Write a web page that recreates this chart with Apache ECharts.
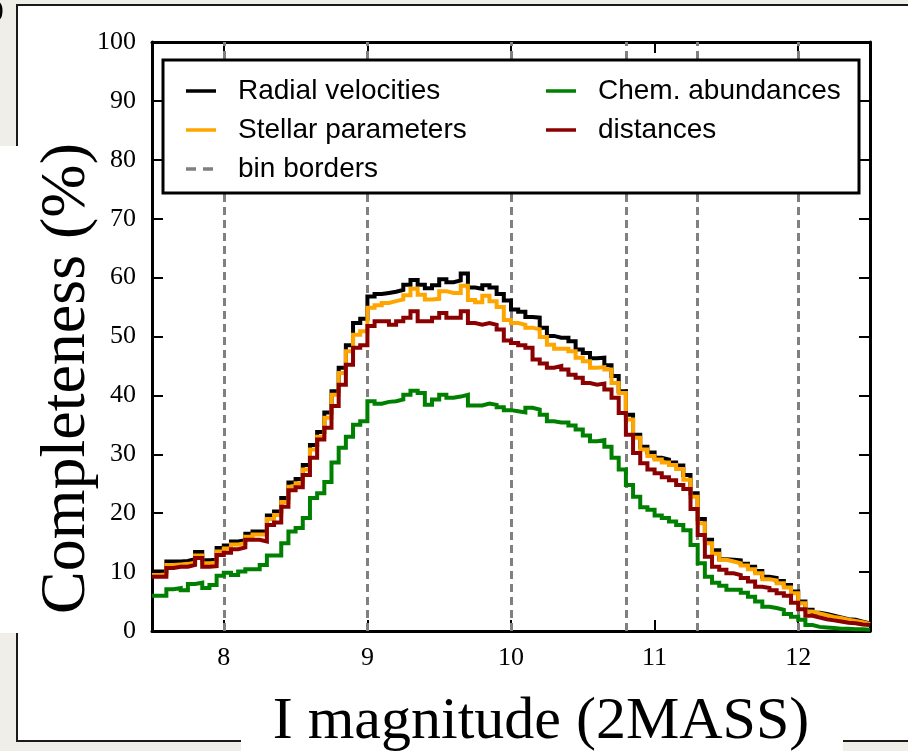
<!DOCTYPE html>
<html>
<head>
<meta charset="utf-8">
<script src="https://cdn.jsdelivr.net/npm/echarts@6/dist/echarts.min.js"></script>
<style>
html,body{margin:0;padding:0;background:#efeee8;}
#chart{width:908px;height:751px;}
</style>
</head>
<body>
<div id="chart"></div>
<script>
// Bin layout (I magnitude): 100 bins of width 0.05 from 7.5 to 12.5
const binStart = 7.5;
const binWidth = 0.05;

// Completeness (%) per bin
const radialVelocities = [
 10.1,10.1,11.8,11.8,11.9,12.2,13.4,12.0,12.1,14.1,
 14.5,15.2,15.4,16.5,16.9,16.9,19.6,20.3,22.6,25.2,
 25.8,28.2,31.6,33.8,37.1,40.7,44.7,48.5,52.3,53.0,
 56.8,57.2,57.4,57.6,57.9,58.8,59.6,58.8,58.2,58.7,
 59.7,59.2,59.5,60.7,58.3,58.1,58.7,58.3,57.2,56.1,
 54.6,54.2,53.3,53.2,51.5,50.1,49.8,49.8,49.2,47.8,
 47.2,46.3,46.4,45.1,43.3,40.7,36.7,33.3,31.3,30.3,
 29.4,29.1,28.6,28.1,26.5,23.4,19.0,15.5,13.7,12.2,
 12.1,12.0,11.4,10.9,10.2,9.2,9.0,8.5,7.8,6.7,
 5.0,3.6,3.1,2.9,2.6,2.3,2.0,1.9,1.6,1.3
];
const stellarParameters = [
 9.5,9.6,11.2,11.3,11.4,11.6,12.8,11.5,11.6,13.5,
 14.0,14.7,14.9,16.0,16.4,16.4,19.0,19.7,21.9,24.5,
 25.1,27.4,30.8,33.0,36.2,40.1,43.8,47.5,50.3,50.9,
 54.9,55.3,55.7,56.0,56.3,57.0,58.1,57.1,56.3,56.4,
 57.7,57.4,57.4,58.6,56.2,55.8,56.9,56.0,55.0,52.8,
 52.3,52.0,51.5,51.2,49.9,48.6,47.9,47.9,47.5,46.4,
 45.8,44.7,44.8,44.4,42.1,40.4,35.9,32.8,30.8,29.7,
 29.1,28.6,28.2,27.5,25.7,22.8,18.3,14.9,13.1,12.1,
 11.8,11.5,11.1,10.5,9.8,8.8,8.6,8.1,7.4,6.4,
 4.7,3.3,3.0,2.7,2.4,2.2,1.9,1.7,1.5,1.2
];
const chemAbundances = [
 6.0,6.0,7.1,7.3,6.9,8.0,8.2,7.3,7.8,9.4,
 9.9,9.5,10.1,10.5,10.5,11.2,12.8,12.8,14.9,16.9,
 17.5,19.2,22.6,23.4,25.3,28.6,31.1,33.0,35.0,35.6,
 39.0,38.6,38.9,39.0,39.3,40.1,40.8,40.4,38.4,39.3,
 40.1,39.6,39.8,40.1,38.3,38.3,38.6,38.4,38.0,37.5,
 37.3,37.1,37.9,37.6,36.7,35.6,35.4,35.4,34.9,34.2,
 33.2,32.2,32.4,31.3,29.4,27.4,24.8,22.8,21.0,20.6,
 19.6,19.2,18.6,18.0,17.1,14.6,11.5,9.2,8.2,7.7,
 7.0,7.0,6.5,5.8,5.0,4.1,3.9,3.6,2.9,2.4,
 1.9,1.0,0.7,0.6,0.5,0.4,0.4,0.3,0.3,0.2
];
const distances = [
 9.2,9.2,10.7,10.9,10.9,11.2,12.4,10.9,11.0,12.9,
 13.3,13.9,14.2,15.5,15.5,15.2,18.0,18.4,21.1,23.9,
 24.4,26.5,29.4,32.5,34.5,38.2,41.8,45.2,48.1,48.5,
 51.8,52.6,52.6,52.0,52.6,53.2,54.3,52.6,52.6,53.2,
 54.0,53.2,53.2,54.3,52.3,52.0,52.3,52.0,51.2,49.3,
 48.9,48.5,48.1,46.1,45.4,44.7,45.0,44.4,43.5,43.0,
 42.1,41.8,42.0,41.0,39.6,37.0,33.3,30.2,28.5,27.4,
 26.8,26.1,25.6,24.8,24.1,20.7,16.3,12.6,10.9,10.4,
 9.8,9.5,9.0,8.4,7.5,7.3,6.9,6.4,6.0,4.8,
 3.7,2.6,2.3,2.0,1.8,1.6,1.4,1.3,1.1,1.0
];
const binBorders = [8, 9, 10, 10.8, 11.3, 12];
const xTicks = [8, 9, 10, 11, 12];

function stepData(vals) {
  const out = vals.map((v, i) => [+(binStart + i * binWidth).toFixed(4), v]);
  out.push([+(binStart + vals.length * binWidth).toFixed(4), vals[vals.length - 1]]);
  return out;
}

const chart = echarts.init(document.getElementById('chart'), null, {renderer: 'canvas'});
const serif = 'Liberation Serif';
const sans = 'Liberation Sans';

function lineSeries(name, vals, color, z) {
  return {
    name: name, type: 'line', step: 'end', data: stepData(vals),
    symbol: 'none', showSymbol: false, z: z,
    lineStyle: {color: color, width: 4, join: 'miter'}, itemStyle: {color: color},
    xAxisIndex: 0, yAxisIndex: 0, animation: false
  };
}

const solidIcon = 'path://M0,0 H30 V3.5 H0 Z';
const dashIcon = 'path://M0,0 H10 V3.5 H0 Z M17,0 H27 V3.5 H17 Z M30,0 V3.5 Z';

const legendText = {fontFamily: sans, fontSize: 28, color: '#000', lineHeight: 30, padding: [0, 0, 0, 17]};

const option = {
  backgroundColor: '#efeee8',
  animation: false,
  graphic: [
    {type: 'rect', z: -10, shape: {x: 17, y: 5, width: 1000, height: 736},
     style: {fill: '#ffffff', stroke: '#1a1a1a', lineWidth: 2}},
    {type: 'rect', z: -9, shape: {x: 0, y: 146, width: 120, height: 487}, style: {fill: '#ffffff'}},
    {type: 'rect', z: -9, shape: {x: 241, y: 700, width: 602, height: 60}, style: {fill: '#ffffff'}},
    {type: 'text', z: -8, left: -5, top: -3, style: {text: ')', font: '26px "Liberation Serif"', fill: '#000'}},
    {type: 'rect', z: 6, shape: {x: 163, y: 60, width: 696, height: 133},
     style: {fill: '#ffffff', stroke: '#000', lineWidth: 3}}
  ],
  grid: {left: 152, right: 38, top: 42, bottom: 120, containLabel: false, outerBoundsMode: 'none'},
  legend: [
    {data: [
       {name: 'Radial velocities', icon: solidIcon},
       {name: 'Stellar parameters', icon: solidIcon},
       {name: 'bin borders', icon: dashIcon}],
     orient: 'vertical', left: 181, top: 71, z: 10, itemGap: 9, itemWidth: 30, itemHeight: 4,
     selectedMode: false, textStyle: legendText},
    {data: [
       {name: 'Chem. abundances', icon: solidIcon},
       {name: 'distances', icon: solidIcon}],
     orient: 'vertical', left: 541, top: 71, z: 10, itemGap: 9, itemWidth: 30, itemHeight: 4,
     selectedMode: false, textStyle: legendText}
  ],
  xAxis: [
    {type: 'value', position: 'bottom', min: 7.5, max: 12.5,
     name: 'I magnitude (2MASS)', nameLocation: 'middle', nameGap: 61, nameMoveOverlap: false,
     nameTextStyle: {fontFamily: serif, fontSize: 60, color: '#000', padding: [0, 0, 0, 60]},
     axisLine: {show: true, onZero: false, lineStyle: {color: '#000', width: 3}},
     axisTick: {show: true, inside: true, length: 11, customValues: xTicks, lineStyle: {color: '#000', width: 2}},
     axisLabel: {show: true, customValues: xTicks, margin: 14, fontFamily: serif, fontSize: 26, color: '#000'},
     splitLine: {show: false}},
    {type: 'value', position: 'top', min: 7.5, max: 12.5,
     axisLine: {show: true, onZero: false, lineStyle: {color: '#000', width: 3}},
     axisTick: {show: true, inside: true, length: 11, customValues: xTicks, lineStyle: {color: '#000', width: 2}},
     axisLabel: {show: false}, splitLine: {show: false}}
  ],
  yAxis: [
    {type: 'value', position: 'left', min: 0, max: 100, interval: 10,
     name: 'Completeness (%)', nameLocation: 'middle', nameGap: 53, nameMoveOverlap: false,
     nameTextStyle: {fontFamily: serif, fontSize: 64, color: '#000', padding: [0, 84, 0, 0]},
     axisLine: {show: true, onZero: false, lineStyle: {color: '#000', width: 3}},
     axisTick: {show: true, inside: true, length: 11, lineStyle: {color: '#000', width: 2}},
     axisLabel: {show: true, margin: 16, fontFamily: serif, fontSize: 26, color: '#000'},
     splitLine: {show: false}},
    {type: 'value', position: 'right', min: 0, max: 100, interval: 10,
     axisLine: {show: true, onZero: false, lineStyle: {color: '#000', width: 3}},
     axisTick: {show: true, inside: true, length: 11, lineStyle: {color: '#000', width: 2}},
     axisLabel: {show: false}, splitLine: {show: false}}
  ],
  series: [
    lineSeries('Radial velocities', radialVelocities, '#000000', 2),
    lineSeries('Stellar parameters', stellarParameters, '#ffa500', 3),
    {name: 'bin borders', type: 'line', data: [], symbol: 'none', z: 1,
     lineStyle: {color: '#808080', width: 3, type: [8, 5]}, itemStyle: {color: '#808080'},
     markLine: {silent: true, symbol: 'none', label: {show: false}, z: 1,
       lineStyle: {color: '#808080', width: 3, type: [8, 5]},
       data: binBorders.map(v => ({xAxis: v}))}},
    lineSeries('Chem. abundances', chemAbundances, '#008000', 4),
    lineSeries('distances', distances, '#8b0000', 5)
  ]
};
chart.setOption(option);
</script>
</body>
</html>
